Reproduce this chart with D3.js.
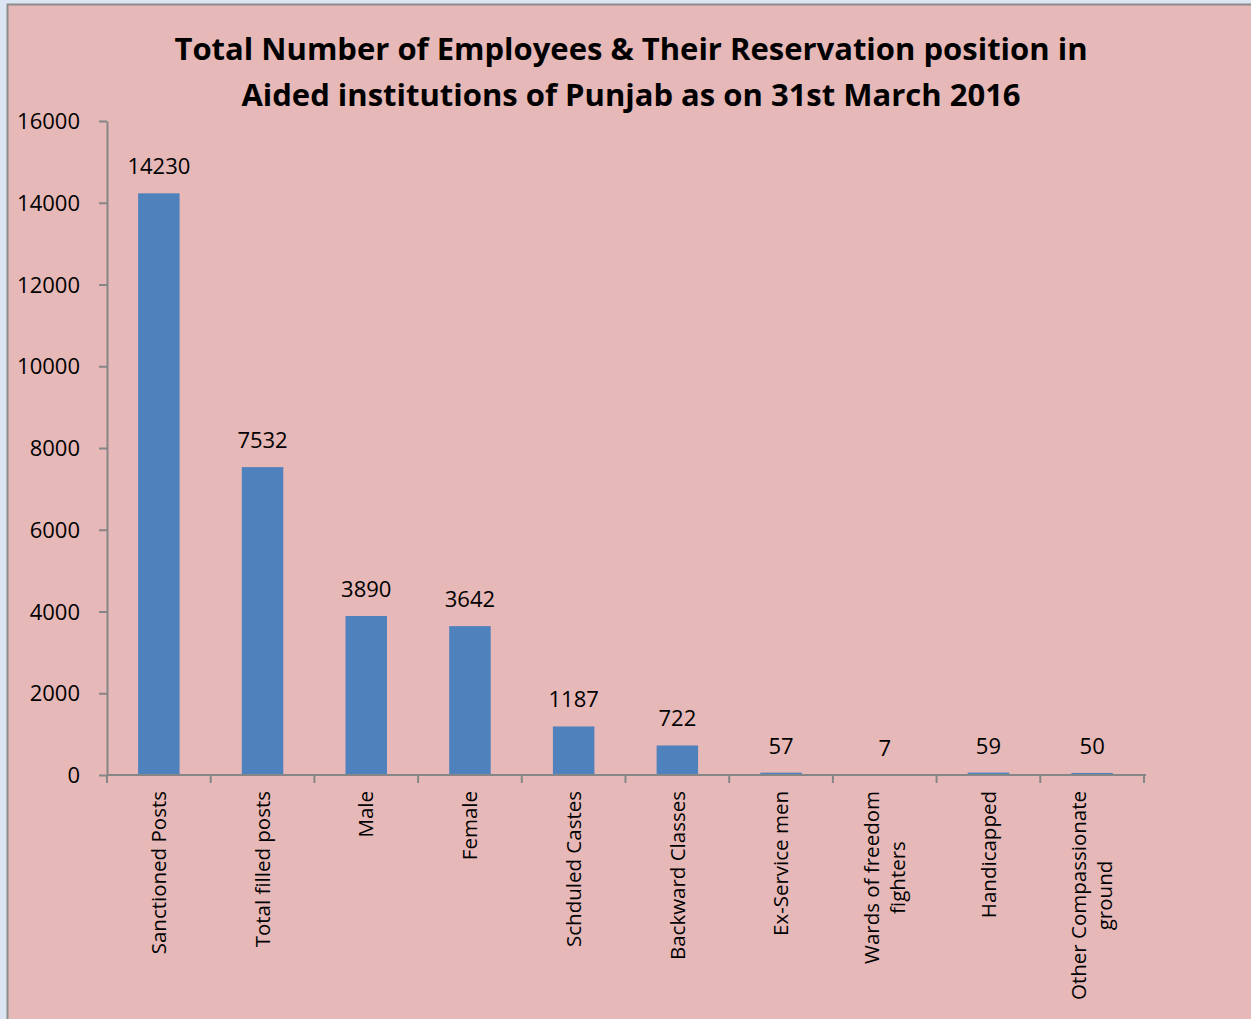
<!DOCTYPE html>
<html>
<head>
<meta charset="utf-8">
<script src="https://cdn.jsdelivr.net/npm/d3@7"></script>
<style>
  body { margin: 0; background: #dce6f2; }
  svg text { font-family: "Open Sans", "Liberation Sans", sans-serif; fill: #000; }
</style>
</head>
<body>
<div id="chart"></div>
<script>
var categories = [
  ["Sanctioned Posts"],
  ["Total filled posts"],
  ["Male"],
  ["Female"],
  ["Schduled Castes"],
  ["Backward Classes"],
  ["Ex-Service men"],
  ["Wards of freedom", "fighters"],
  ["Handicapped"],
  ["Other Compassionate", "ground"]
];
var values = [14230, 7532, 3890, 3642, 1187, 722, 57, 7, 59, 50];
var yTicks = [0, 2000, 4000, 6000, 8000, 10000, 12000, 14000, 16000];
var titleLines = [
  "Total Number of Employees & Their Reservation position in",
  "Aided institutions of Punjab as on 31st March 2016"
];

var W = 1251, H = 1019;
var m = {top: 121, left: 107, right: 107, bottom: 244};

var svg = d3.select("#chart").append("svg")
    .attr("width", W)
    .attr("height", H);

// chart panel
svg.append("rect")
    .attr("x", 7.5).attr("y", 4.5)
    .attr("width", W).attr("height", H)
    .attr("fill", "#e6b8b7")
    .attr("stroke", "#8c8c8c")
    .attr("stroke-width", 2);

var x = d3.scaleBand()
    .domain(d3.range(categories.length))
    .range([m.left, W - m.right])
    .paddingInner(0.6)
    .paddingOuter(0.3);

var y = d3.scaleLinear()
    .domain([0, 16000])
    .range([H - m.bottom, m.top]);

// title
svg.append("g").selectAll("text")
    .data(titleLines)
    .enter().append("text")
    .attr("x", 631)
    .attr("y", function(d, i) { return 60 + i * 46; })
    .attr("text-anchor", "middle")
    .style("font-size", "31px")
    .style("font-weight", "bold")
    .text(function(d) { return d; });

// y axis
var yAxis = svg.append("g")
    .attr("transform", "translate(" + m.left + ",0)")
    .call(d3.axisLeft(y).tickValues(yTicks).tickFormat(d3.format("d"))
      .tickSize(8).tickPadding(19).tickSizeOuter(0));
yAxis.selectAll("path, line").attr("stroke", "#868686").attr("stroke-width", 2);
yAxis.selectAll("text").style("font-size", "22px").attr("dy", "0.35em")
    .style("font-family", "'Open Sans', sans-serif");

// bars
svg.append("g").selectAll("rect")
    .data(values)
    .enter().append("rect")
    .attr("x", function(d, i) { return x(i); })
    .attr("y", function(d) { return y(d); })
    .attr("width", x.bandwidth())
    .attr("height", function(d) { return y(0) - y(d); })
    .attr("fill", "#4f81bd");

// value labels
svg.append("g").selectAll("text")
    .data(values)
    .enter().append("text")
    .attr("x", function(d, i) { return x(i) + x.bandwidth() / 2; })
    .attr("y", function(d) { return y(d) - 19; })
    .attr("text-anchor", "middle")
    .style("font-size", "22px")
    .text(function(d) { return d; });

// x axis line and ticks at category boundaries
var x0 = m.left, x1 = W - m.right;
var xAxis = svg.append("g");
xAxis.append("line")
    .attr("x1", x0).attr("x2", x1 + 2)
    .attr("y1", y(0)).attr("y2", y(0))
    .attr("stroke", "#868686").attr("stroke-width", 2);
xAxis.selectAll(".tk")
    .data(d3.range(categories.length + 1))
    .enter().append("line")
    .attr("x1", function(i) { return x0 + i * (x1 - x0) / categories.length; })
    .attr("x2", function(i) { return x0 + i * (x1 - x0) / categories.length; })
    .attr("y1", y(0)).attr("y2", y(0) + 8)
    .attr("stroke", "#868686").attr("stroke-width", 2);

// category labels, rotated
var lab = svg.append("g").selectAll("g")
    .data(categories)
    .enter().append("g")
    .attr("transform", function(d, i) {
      var cx = x(i) + x.bandwidth() / 2;
      return "translate(" + cx + "," + (y(0) + 16) + ") rotate(-90)";
    });

lab.each(function(lines) {
  var g = d3.select(this);
  var lh = 26;
  var off = -(lines.length - 1) * lh / 2;
  var first = g.append("text")
      .attr("x", 0)
      .attr("y", off)
      .attr("dy", "0.35em")
      .attr("text-anchor", "end")
      .style("font-size", "20.5px")
      .text(lines[0]);
  if (lines.length > 1) {
    var w = first.node().getComputedTextLength();
    for (var k = 1; k < lines.length; k++) {
      g.append("text")
          .attr("x", -w / 2)
          .attr("y", off + k * lh)
          .attr("dy", "0.35em")
          .attr("text-anchor", "middle")
          .style("font-size", "20.5px")
          .text(lines[k]);
    }
  }
});
</script>
</body>
</html>
